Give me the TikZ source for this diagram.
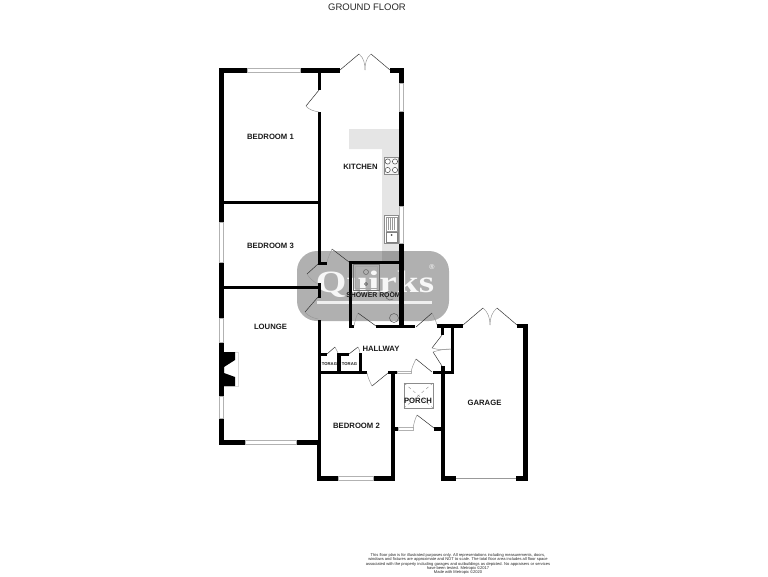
\documentclass[tikz,border=0pt]{standalone}
\usepackage{fontspec}
\setmainfont{Liberation Sans}
\newfontfamily\logofont{Liberation Serif}
\usepackage{tikz}
\usetikzlibrary{
    calc,
    positioning
}
\tikzset{
    wall/.style={fill=black, draw=none},
    window/.style={draw=black!30, fill=white, line width=0.5pt},
    doorleaf/.style={draw=black!80, line width=0.5pt},
    doorarc/.style={draw=black!40, line width=0.5pt},
    fitting/.style={draw=black!45, fill=black!4, line width=0.7pt},
    roomlabel/.style={font=\fontsize{7.7}{8}\selectfont\bfseries, text=black!90, inner sep=0pt},
    storelabel/.style={font=\fontsize{4.2}{5}\selectfont\bfseries, text=black!90, inner sep=0pt}
}
\begin{document}
\begin{tikzpicture}[x=1pt, y=-1pt]
    \useasboundingbox (0, 0) rectangle (768, 576);
    % counter
    \fill[black!10] (349, 129) -- (399, 129) -- (399, 262) -- (382, 262) -- (382, 149) -- (349, 149) -- cycle;
    % hob and sink
    \node[fitting, minimum width=14.5pt, minimum height=17.5pt, inner sep=0pt] (hob) at (391.5, 165.7) {};
    \foreach \cx/\cy in {387.7/161.5, 395/161.5, 387.7/170, 395/170}
        \draw[black!70, line width=0.5pt, fill=white] (\cx, \cy) circle (2.6);
    \node[fitting, fill=white, minimum width=14pt, minimum height=28pt, inner sep=0pt] (sink) at (391.5, 229) {};
    \draw[black!40, line width=0.4pt] (386, 217) rectangle (397, 231);
    \foreach \sx in {388, 390, 392, 394}
        \draw[black!40, line width=0.3pt] (\sx, 218) -- (\sx, 230);
    \draw[black!50, line width=0.4pt] (386, 232) rectangle (397, 242);
    \fill[black!70] (391.5, 235) circle (1);
    % logo plate
    \fill[black, opacity=0.31, rounded corners=20pt] (297, 251) rectangle (449, 321);
    \node[font=\logofont\fontsize{31}{31}\selectfont\bfseries, text=white, text opacity=0.9, inner sep=0pt, xscale=1.27] (logo) at (375, 284) {Quirks};
    \fill[white, opacity=0.8] (317, 300.5) rectangle (432, 303.5);
    \node[font=\fontsize{7}{7}\selectfont, text=white, inner sep=0pt] (mark) at (432, 267) {®};
    % shower room fittings
    \draw[black!55, line width=0.7pt] (353, 264.5) rectangle (379, 290);
    \draw[black!35, line width=0.4pt] (355, 266.5) rectangle (377, 288);
    \draw[black!60, line width=0.5pt] (366, 272) circle (2.5);
    \draw[black!70, line width=0.5pt] (366, 284) circle (1.5);
    \draw[black!60, line width=0.5pt] (393, 299) arc (50:310:4.5);
    \draw[black!60, line width=0.6pt] (394, 318) circle (4.5);
    % outer walls
    \fill[wall] (219, 67.5) rectangle (247, 72.7);
    \fill[wall] (300, 67.5) rectangle (340, 72.7);
    \fill[wall] (390, 67.5) rectangle (404, 72.7);
    \fill[wall] (219, 68) rectangle (224, 222);
    \fill[wall] (219, 262) rectangle (224, 318);
    \fill[wall] (219, 342) rectangle (224, 396);
    \fill[wall] (219, 418) rectangle (224, 445);
    \fill[wall] (219, 440) rectangle (245, 445);
    \fill[wall] (296, 440) rectangle (321, 445);
    \fill[wall] (399, 68) rectangle (404, 83);
    \fill[wall] (399, 111) rectangle (404, 206);
    \fill[wall] (399, 243) rectangle (404, 328);
    % inner walls
    \fill[wall] (318, 70) rectangle (321, 90);
    \fill[wall] (318, 112) rectangle (321, 264);
    \fill[wall] (224, 201) rectangle (318, 204);
    \fill[wall] (224, 286) rectangle (321, 289);
    \fill[wall] (318, 262) rectangle (327, 265);
    \fill[wall] (318, 283) rectangle (321, 298);
    \fill[wall] (318, 320) rectangle (321, 481);
    \fill[wall] (349, 261) rectangle (404, 264);
    \fill[wall] (349, 261) rectangle (352, 328);
    \fill[wall] (349, 325) rectangle (354, 328);
    \fill[wall] (376, 324.5) rectangle (415, 328);
    % hall
    \fill[wall] (321, 353) rectangle (327, 356);
    \fill[wall] (337, 353) rectangle (349, 356);
    \fill[wall] (337, 353) rectangle (341, 374);
    \fill[wall] (359, 353) rectangle (362, 374);
    \fill[wall] (321, 371) rectangle (367, 374);
    \fill[wall] (388, 371) rectangle (397, 374);
    \fill[wall] (433, 371) rectangle (453, 374);
    % bedroom 2
    \fill[wall] (317, 440) rectangle (321, 481);
    \fill[wall] (317, 476) rectangle (338, 481);
    \fill[wall] (373, 476) rectangle (395, 481);
    \fill[wall] (391, 371) rectangle (395, 481);
    % porch
    \fill[wall] (392, 427) rectangle (398, 431);
    \fill[wall] (434, 427) rectangle (445, 431);
    % garage
    \fill[wall] (437, 324) rectangle (463, 328);
    \fill[wall] (517, 324) rectangle (528, 328);
    \fill[wall] (523, 324) rectangle (528, 481);
    \fill[wall] (441, 476) rectangle (456, 481);
    \fill[wall] (516, 476) rectangle (528, 481);
    \fill[wall] (441, 366) rectangle (445, 481);
    \fill[wall] (441, 328) rectangle (444, 335);
    \fill[wall] (451, 324) rectangle (454, 374);
    \draw[black!40, line width=0.5pt] (456, 478.5) -- (516, 478.5);
    % windows
    \draw[window] (247, 68.5) rectangle (300, 72);
    \draw[window] (399.5, 83) rectangle (403.5, 111);
    \draw[window] (399.5, 206) rectangle (403.5, 243);
    \draw[window] (219.5, 222) rectangle (223.5, 262);
    \draw[window] (219.5, 318) rectangle (223.5, 342);
    \draw[window] (219.5, 396) rectangle (223.5, 418);
    \draw[window] (245, 440.5) rectangle (296, 444.5);
    \draw[window] (338, 476.5) rectangle (373, 480.5);
    \draw[window] (397, 371.5) rectangle (411, 373.5);
    \draw[window] (398, 427.5) rectangle (413, 430.5);
    % doors
    \draw[doorleaf] (340, 70) -- (359, 54);
    \draw[doorarc] (359, 54) .. controls (364, 58) and (365, 64) .. (365, 70);
    \draw[doorleaf] (390, 70) -- (371, 54);
    \draw[doorarc] (371, 54) .. controls (366, 58) and (365, 64) .. (365, 70);
    \draw[doorleaf] (319, 90) -- (306, 106);
    \draw[doorarc] (306, 106) .. controls (309, 110) and (314, 111) .. (319, 112);
    \draw[doorleaf] (349, 262) -- (332, 249);
    \draw[doorarc] (332, 249) .. controls (330, 253) and (328, 258) .. (327, 262);
    \draw[doorleaf] (318, 264) -- (307, 274);
    \draw[doorarc] (307, 274) .. controls (310, 279) and (314, 282) .. (318, 284);
    \draw[doorleaf] (318, 297) -- (305, 312);
    \draw[doorarc] (305, 312) .. controls (308, 316) and (313, 318) .. (318, 319);
    \draw[doorleaf] (376, 326) -- (358, 313);
    \draw[doorarc] (358, 313) .. controls (356, 317) and (355, 321) .. (354, 326);
    \draw[doorleaf] (416, 327) -- (432, 313);
    \draw[doorarc] (432, 313) .. controls (434, 317) and (436, 321) .. (437, 325);
    \draw[doorleaf] (442, 335) -- (432, 348);
    \draw[doorarc] (432, 348) .. controls (438, 350) and (445, 350) .. (451, 349);
    \draw[doorleaf] (442, 366) -- (433, 352);
    \draw[doorarc] (433, 352) .. controls (439, 350) and (445, 349) .. (451, 349);
    \draw[doorleaf] (432, 372) -- (416, 359);
    \draw[doorarc] (416, 359) .. controls (414, 363) and (412, 367) .. (411, 372);
    \draw[doorleaf] (388, 373) -- (372, 386);
    \draw[doorarc] (372, 386) .. controls (370, 382) and (368, 378) .. (367, 373);
    \draw[doorleaf] (434, 428) -- (417, 415);
    \draw[doorarc] (417, 415) .. controls (415, 419) and (414, 423) .. (413, 428);
    \draw[doorleaf] (327, 354) -- (335, 347);
    \draw[doorarc] (335, 347) .. controls (336, 349) and (337, 351) .. (338, 353);
    \draw[doorleaf] (349, 354) -- (358, 347);
    \draw[doorarc] (358, 347) .. controls (359, 349) and (360, 351) .. (360, 353);
    \draw[doorleaf] (463, 325) -- (483, 308);
    \draw[doorarc] (483, 308) .. controls (488, 312) and (490, 318) .. (490, 325);
    \draw[doorleaf] (517, 325) -- (497, 308);
    \draw[doorarc] (497, 308) .. controls (492, 312) and (490, 318) .. (490, 325);
    % fireplace
    \draw[draw=black!15, line width=0.4pt] (224, 352) rectangle (238, 386);
    \fill[black] (224, 352) -- (235, 352) -- (235, 360) -- (224, 367) -- cycle;
    \fill[black] (224, 373) -- (235, 377) -- (235, 386) -- (224, 386) -- cycle;
    % porch skylight
    \draw[black!45, line width=0.5pt] (404, 383) rectangle (433, 408);
    \draw[black!45, line width=0.4pt, dashed] (404, 383) -- (433, 408) (433, 383) -- (404, 408);
    % texts
    \node[font=\fontsize{9.5}{10}\selectfont, text=black!85, inner sep=0pt] (title) at (367, 7) {GROUND FLOOR};
    \node[roomlabel] (bedone) at (270.5, 137) {BEDROOM 1};
    \node[roomlabel] (bedthree) at (270.5, 246) {BEDROOM 3};
    \node[roomlabel] (kitchen) at (360.5, 166.5) {KITCHEN};
    \node[roomlabel] (lounge) at (270.5, 326.5) {LOUNGE};
    \node[roomlabel, font=\fontsize{6.9}{8}\selectfont\bfseries] (shower) at (373.5, 295) {SHOWER ROOM};
    \node[roomlabel] (hallway) at (381, 349) {HALLWAY};
    \node[roomlabel] (bedtwo) at (356.5, 426) {BEDROOM 2};
    \node[roomlabel] (porch) at (418, 401) {PORCH};
    \node[roomlabel] (garage) at (484.5, 403) {GARAGE};
    \node[storelabel] (storeone) at (329.5, 364) {TORAG};
    \node[storelabel] (storetwo) at (349.5, 364) {TORAG};
    \node[font=\fontsize{4.05}{4.4}\selectfont, align=center, text=black!85, inner sep=0pt] (disclaimer) at (458, 564) {This floor plan is for illustrated purposes only. All representations including measurements, doors,\\windows and fixtures are approximate and NOT to scale. The total floor area includes all floor space\\associated with the property including garages and outbuildings as depicted. No appraisers or services\\have been tested. Metropix \textcopyright 2017\\Made with Metropix \textcopyright 2020};
\end{tikzpicture}
\end{document}
